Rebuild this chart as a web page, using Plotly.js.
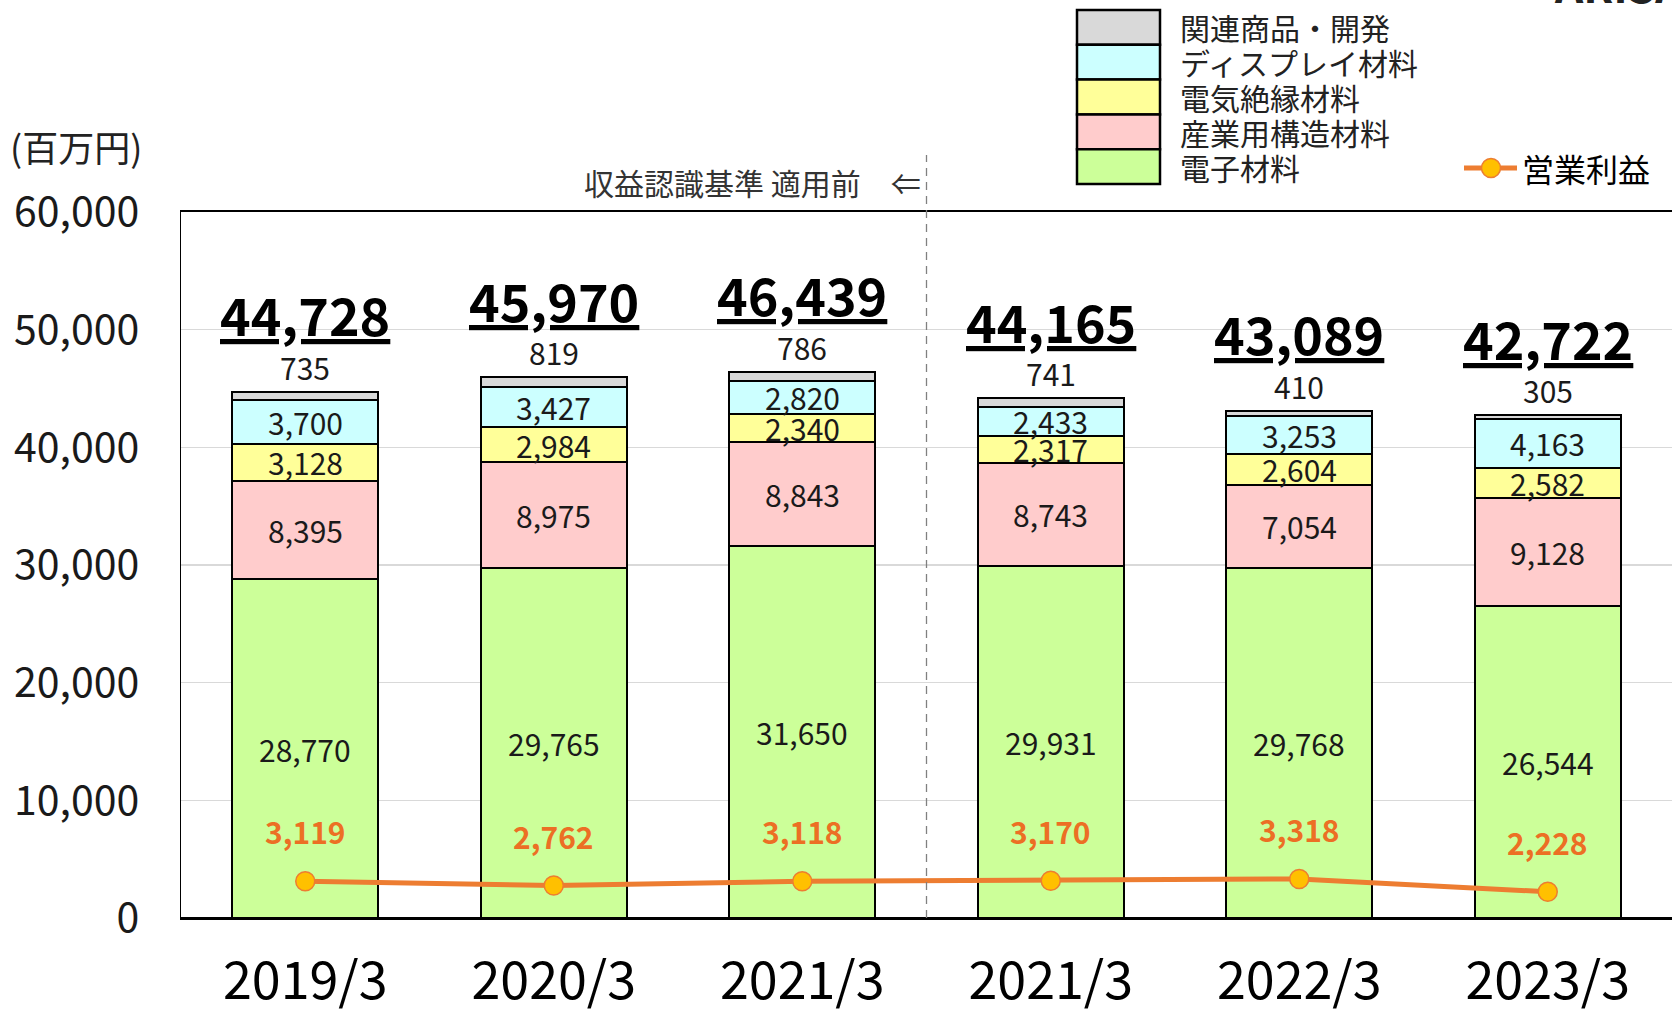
<!DOCTYPE html>
<html><head><meta charset="utf-8">
<script src="https://cdn.plot.ly/plotly-3.0.1.min.js"></script>
<style>html,body{margin:0;padding:0;overflow:hidden;background:#fff}#chart{width:1672px;height:1016px}</style>
</head><body><div id="chart"></div>
<script>
// ---- data ----
const periods = ['2019/3', '2020/3', '2021/3', '2021/3', '2022/3', '2023/3'];
const seriesNames = ['電子材料', '産業用構造材料', '電気絶縁材料', 'ディスプレイ材料', '関連商品・開発'];
const electronic = [28770, 29765, 31650, 29931, 29768, 26544];
const industrial = [8395, 8975, 8843, 8743, 7054, 9128];
const insulation = [3128, 2984, 2340, 2317, 2604, 2582];
const display = [3700, 3427, 2820, 2433, 3253, 4163];
const related = [735, 819, 786, 741, 410, 305];
const totals = [44728, 45970, 46439, 44165, 43089, 42722];
const opProfit = [3119, 2762, 3118, 3170, 3318, 2228];
const opName = '営業利益';
const yTicks = [0, 10000, 20000, 30000, 40000, 50000, 60000];
const unitLabel = '(百万円)';
const noteLabel = '収益認識基準 適用前　⇐';

// ---- styles ----
const FONT = '"Noto Sans CJK JP", "Noto Sans", sans-serif';
const colors = ['#CCFF99', '#FFCCCC', '#FFFF99', '#CCFFFF', '#D9D9D9'];
const ORANGE = '#ED7D31';
const W = 1672, H = 1016, ML = 181, MR = 0, MT = 212, MB = 98;
const pw = W - ML - MR, ph = H - MT - MB;
const px = x => (x - ML) / pw;
const py = y => (H - MB - y) / ph;
const fmt = v => v.toLocaleString('en-US');

const xs = periods.map((_, i) => i);
const stacks = [electronic, industrial, insulation, display, related];

const traces = stacks.map((vals, k) => ({
  type: 'bar', x: xs, y: vals, name: seriesNames[k],
  marker: {color: colors[k], line: {color: '#000', width: 2}},
  hoverinfo: 'skip', showlegend: false
}));
traces.push({
  type: 'scatter', mode: 'lines+markers', x: xs, y: opProfit, name: opName,
  line: {color: ORANGE, width: 5},
  marker: {size: 19, color: '#FFC000', line: {color: ORANGE, width: 1.5}},
  cliponaxis: false, showlegend: false, hoverinfo: 'skip'
});

const annotations = [];
xs.forEach(i => {
  let base = 0;
  for (let k = 0; k < 4; k++) {
    const v = stacks[k][i];
    annotations.push({x: i, y: base + v / 2, xref: 'x', yref: 'y', text: fmt(v), showarrow: false,
      xanchor: 'center', yanchor: 'middle', font: {family: FONT, size: 30, color: '#1a1a1a'}});
    base += v;
  }
  annotations.push({x: i, y: totals[i], xref: 'x', yref: 'y', text: fmt(related[i]), showarrow: false,
    xanchor: 'center', yanchor: 'middle', yshift: 25, font: {family: FONT, size: 30, color: '#1a1a1a'}});
  annotations.push({x: i, y: totals[i], xref: 'x', yref: 'y', text: '<b><u>' + fmt(totals[i]) + '</u></b>', showarrow: false,
    xanchor: 'center', yanchor: 'middle', yshift: 78, font: {family: FONT, size: 52, color: '#000'}});
  annotations.push({x: i, y: opProfit[i], xref: 'x', yref: 'y', text: '<b>' + fmt(opProfit[i]) + '</b>', showarrow: false,
    xanchor: 'center', yanchor: 'middle', yshift: 50, font: {family: FONT, size: 30, color: '#EC6F24'}});
});

annotations.push({xref: 'paper', yref: 'paper', x: px(8), y: py(146), xanchor: 'left', yanchor: 'middle',
  text: unitLabel, showarrow: false, font: {family: FONT, size: 36, color: '#222'}});
annotations.push({xref: 'x', yref: 'paper', x: 2.5, xshift: -4, y: py(182), xanchor: 'right', yanchor: 'middle',
  text: noteLabel, showarrow: false, font: {family: FONT, size: 30, color: '#333'}});
annotations.push({xref: 'paper', yref: 'paper', x: px(1552), y: py(18), xanchor: 'left', yanchor: 'bottom',
  text: '<b>ARISAWA</b>', showarrow: false, font: {family: FONT, size: 44, color: '#222'}});

// custom legend
const shapes = [];
const legendOrder = [4, 3, 2, 1, 0];
const rowH = 34.8, top0 = 10;
legendOrder.forEach((k, r) => {
  const y0 = top0 + r * rowH, y1 = y0 + rowH;
  shapes.push({type: 'rect', xref: 'paper', yref: 'paper', x0: px(1077), x1: px(1160), y0: py(y1), y1: py(y0),
    fillcolor: colors[k], line: {color: '#000', width: 2.5}});
  annotations.push({xref: 'paper', yref: 'paper', x: px(1178), y: py((y0 + y1) / 2), xanchor: 'left', yanchor: 'middle',
    text: seriesNames[k], showarrow: false, font: {family: FONT, size: 30, color: '#222'}});
});
shapes.push({type: 'line', xref: 'paper', yref: 'paper', x0: px(1464), x1: px(1517), y0: py(168), y1: py(168),
  line: {color: ORANGE, width: 5}});
shapes.push({type: 'circle', xref: 'paper', yref: 'paper', x0: px(1481.5), x1: px(1500.5), y0: py(177.5), y1: py(158.5),
  fillcolor: '#FFC000', line: {color: ORANGE, width: 1.5}});
annotations.push({xref: 'paper', yref: 'paper', x: px(1520), y: py(168), xanchor: 'left', yanchor: 'middle',
  text: opName, showarrow: false, font: {family: FONT, size: 32, color: '#000'}});

shapes.push({type: 'line', xref: 'x', yref: 'paper', x0: 2.5, x1: 2.5, y0: 0, y1: py(155),
  line: {color: '#808080', width: 1.3, dash: '8px,6px'}});

const layout = {
  width: W, height: H,
  margin: {l: ML, r: MR, t: MT, b: MB, pad: 0},
  paper_bgcolor: '#fff', plot_bgcolor: '#fff',
  barmode: 'stack', bargap: 0.413,
  showlegend: false, hovermode: false,
  xaxis: {range: [-0.5, 5.5], tickvals: xs, ticktext: periods, showgrid: false, zeroline: false,
    showline: true, mirror: true, linecolor: '#000', linewidth: 2, ticks: '',
    ticklabelstandoff: 17, tickfont: {family: FONT, size: 52, color: '#000'}, fixedrange: true},
  yaxis: {range: [0, 60000], tickvals: yTicks, ticktext: yTicks.map(fmt), showgrid: true, gridcolor: '#D9D9D9', gridwidth: 1.5,
    zeroline: true, zerolinecolor: '#000', zerolinewidth: 3,
    showline: true, linecolor: '#000', linewidth: 1.5, ticks: '',
    ticklabelstandoff: 32, tickfont: {family: FONT, size: 41, color: '#1a1a1a'}, fixedrange: true},
  annotations: annotations, shapes: shapes
};

Plotly.newPlot('chart', traces, layout, {displayModeBar: false, staticPlot: true});
</script>
</body></html>
